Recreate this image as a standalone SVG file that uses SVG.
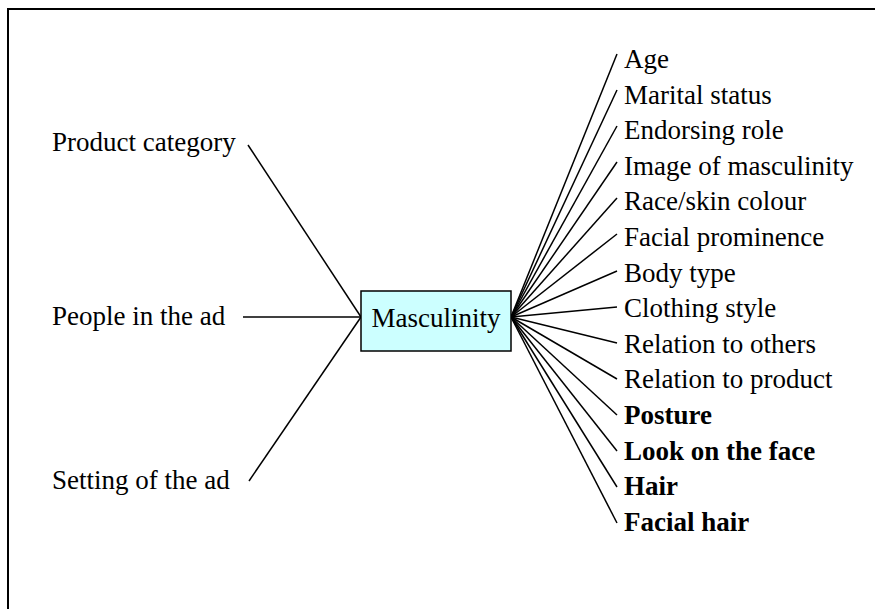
<svg xmlns="http://www.w3.org/2000/svg" width="875" height="609" viewBox="0 0 875 609">
  <style>
    .lbl { font-family: "Liberation Serif", "Times New Roman", serif; font-size: 27px; fill: #000; }
    .b { font-weight: bold; }
    .edge { stroke: #000; stroke-width: 1.5; fill: none; }
    .frame { stroke: #000; stroke-width: 2; fill: none; }
    .box { fill: #CCFFFF; stroke: #000; stroke-width: 1.5; }
  </style>
  <rect width="875" height="609" fill="#fff"/>
  <!-- outer frame: only top and left edges fall inside the canvas -->
  <path class="frame" d="M875,9 H8 V609"/>

  <g id="connectors">
    <!-- left inputs -->
    <line class="edge" x1="248" y1="145" x2="361" y2="317"/>
    <line class="edge" x1="243" y1="317" x2="361" y2="317"/>
    <line class="edge" x1="249" y1="481" x2="361" y2="317"/>
    <!-- right fan -->
    <line class="edge" x1="511" y1="317" x2="617" y2="54"/>
    <line class="edge" x1="511" y1="317" x2="617" y2="90"/>
    <line class="edge" x1="511" y1="317" x2="617" y2="126"/>
    <line class="edge" x1="511" y1="317" x2="617" y2="162"/>
    <line class="edge" x1="511" y1="317" x2="617" y2="198"/>
    <line class="edge" x1="511" y1="317" x2="617" y2="234"/>
    <line class="edge" x1="511" y1="317" x2="617" y2="271"/>
    <line class="edge" x1="511" y1="317" x2="617" y2="307"/>
    <line class="edge" x1="511" y1="317" x2="617" y2="343"/>
    <line class="edge" x1="511" y1="317" x2="617" y2="379"/>
    <line class="edge" x1="511" y1="317" x2="617" y2="415"/>
    <line class="edge" x1="511" y1="317" x2="617" y2="451"/>
    <line class="edge" x1="511" y1="317" x2="617" y2="487"/>
    <line class="edge" x1="511" y1="317" x2="617" y2="523"/>
  </g>

  <g id="masculinity">
    <rect class="box" x="361" y="291" width="150" height="60"/>
    <text class="lbl" x="436" y="327" text-anchor="middle">Masculinity</text>
  </g>

  <g id="product-category"><text class="lbl" x="52" y="151">Product category</text></g>
  <g id="people-in-the-ad"><text class="lbl" x="52" y="325">People in the ad</text></g>
  <g id="setting-of-the-ad"><text class="lbl" x="52" y="489">Setting of the ad</text></g>

  <g id="age"><text class="lbl" x="624" y="68">Age</text></g>
  <g id="marital-status"><text class="lbl" x="624" y="103.6">Marital status</text></g>
  <g id="endorsing-role"><text class="lbl" x="624" y="139.2">Endorsing role</text></g>
  <g id="image-of-masculinity"><text class="lbl" x="624" y="174.8">Image of masculinity</text></g>
  <g id="race-skin-colour"><text class="lbl" x="624" y="210.4">Race/skin colour</text></g>
  <g id="facial-prominence"><text class="lbl" x="624" y="246">Facial prominence</text></g>
  <g id="body-type"><text class="lbl" x="624" y="281.6">Body type</text></g>
  <g id="clothing-style"><text class="lbl" x="624" y="317.2">Clothing style</text></g>
  <g id="relation-to-others"><text class="lbl" x="624" y="352.8">Relation to others</text></g>
  <g id="relation-to-product"><text class="lbl" x="624" y="388.4">Relation to product</text></g>
  <g id="posture"><text class="lbl b" x="624" y="424">Posture</text></g>
  <g id="look-on-the-face"><text class="lbl b" x="624" y="459.6">Look on the face</text></g>
  <g id="hair"><text class="lbl b" x="624" y="495.2">Hair</text></g>
  <g id="facial-hair"><text class="lbl b" x="624" y="530.8">Facial hair</text></g>
</svg>
